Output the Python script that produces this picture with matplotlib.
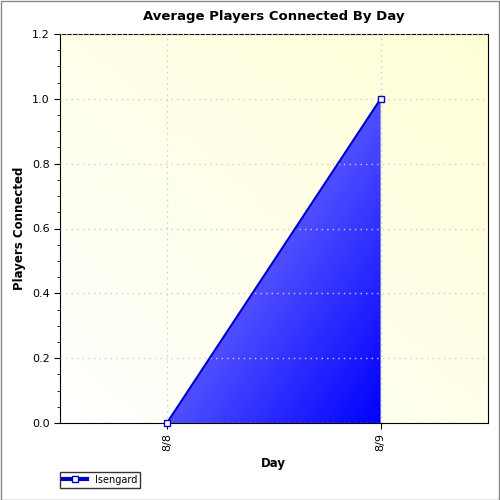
import numpy as np
import matplotlib
matplotlib.use("Agg")
import matplotlib.pyplot as plt
from matplotlib.patches import Polygon, Rectangle
from matplotlib.lines import Line2D

days = ["8/8", "8/9"]
players = [0.0, 1.0]
series_name = "Isengard"

fig = plt.figure(figsize=(5, 5), dpi=100)
fig.patch.set_facecolor("white")
fig.add_artist(Rectangle((0.001, 0.001), 0.997, 0.997, transform=fig.transFigure,
                         fill=False, edgecolor="#888888", lw=1))
ax = fig.add_axes([0.12, 0.154, 0.855, 0.778])
x = np.arange(len(days))
xlim = (-0.5, 1.5); ylim = (0, 1.2)
ax.set_xlim(*xlim); ax.set_ylim(*ylim)

gx, gy = np.meshgrid(np.linspace(0, 1, 200), np.linspace(0, 1, 200))
t = np.clip((gx + gy) / 2, 0, 1)
bg = np.zeros((200, 200, 3))
bg[..., 0] = 1; bg[..., 1] = 1; bg[..., 2] = 1 - 0.16 * t
ax.imshow(bg, extent=[*xlim, *ylim], origin="lower", aspect="auto", zorder=0)

ft = np.clip((gx * 0.5 + (1 - gy) * 0.5), 0, 1)
fg = np.zeros((200, 200, 3))
fg[..., 0] = 0.62 * (1 - ft); fg[..., 1] = 0.62 * (1 - ft); fg[..., 2] = 1
im = ax.imshow(fg, extent=[x[0], x[-1], 0, max(players)], origin="lower",
               aspect="auto", zorder=1)
verts = list(zip(x, players)) + [(x[-1], 0), (x[0], 0)]
poly = Polygon(verts, closed=True, facecolor="none", edgecolor="none", transform=ax.transData)
ax.add_patch(poly)
im.set_clip_path(poly)
ax.plot(x, players, color="#0000cc", lw=1.5, marker="s", ms=5, mfc="white",
        mec="#0000cc", zorder=3, clip_on=False)

ax.set_xticks(x)
ax.set_xticklabels(days, rotation=90, fontsize=8)
ax.set_yticks(np.arange(0, 1.21, 0.2))
ax.set_yticklabels([f"{v:.1f}" for v in np.arange(0, 1.21, 0.2)], fontsize=8)
ax.set_yticks(np.arange(0, 1.21, 0.05), minor=True)
ax.grid(True, color="#cccccc", ls=(0, (1, 3)), lw=1)
ax.set_axisbelow(False)
ax.tick_params(direction="out", length=4)
ax.set_title("Average Players Connected By Day", fontsize=9.5, fontweight="bold", pad=10)
ax.set_xlabel("Day", fontsize=8.5, fontweight="bold")
ax.set_ylabel("Players Connected", fontsize=8.5, fontweight="bold")

h = Line2D([], [], color="#0000cc", lw=3, marker="s", ms=5, mfc="white", mec="#0000cc")
leg = fig.legend([h], [series_name], loc="lower left", bbox_to_anchor=(0.11, 0.015),
                 fontsize=7, frameon=True, fancybox=False, borderpad=0.3, handlelength=2.5)
leg.get_frame().set_edgecolor("black")
fig.savefig("out.png", dpi=100)
